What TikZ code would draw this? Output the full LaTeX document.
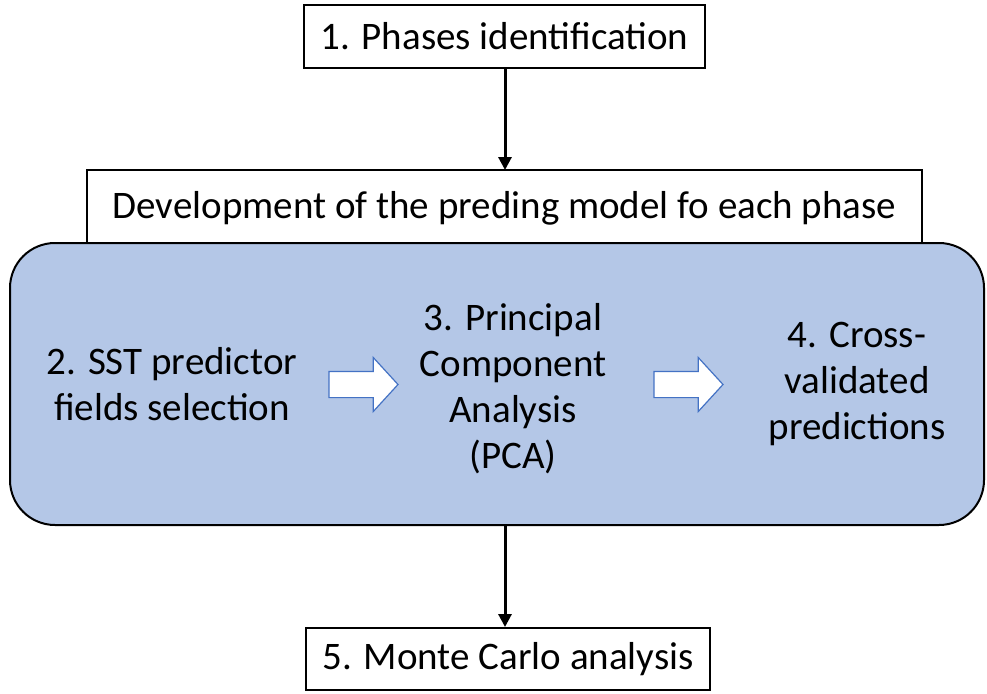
\documentclass[tikz,border=0pt]{standalone}
\usepackage{fontspec}
\setmainfont{Carlito}
\usetikzlibrary{arrows.meta,shapes.arrows}
\definecolor{panelblue}{HTML}{B4C7E7}
\definecolor{arrowblue}{HTML}{4472C4}
\tikzset{
  txt/.style={font=\fontsize{39}{46}\selectfont, align=center, text=black},
  plainbox/.style={draw=black, line width=2pt, fill=white, inner sep=0pt},
  flow/.style={line width=3pt, -{Triangle[width=13pt,length=13pt]}},
  hollow/.style={single arrow, draw=arrowblue, fill=white, line width=1.2pt,
    minimum height=69pt, minimum width=53pt, inner sep=12.5pt,
    single arrow head extend=14pt, single arrow tip angle=95}
}
\begin{document}
\begin{tikzpicture}[x=1pt,y=-1pt]
\useasboundingbox (0,0) rectangle (987,693);
% box 1
\node[plainbox, minimum width=401pt, minimum height=63pt] (b1) at (504.5,36.5) {};
\node[txt] (t1) at (b1.center) {1. Phases identification};
% box 2 (header)
\node[plainbox, minimum width=835pt, minimum height=80pt] (b2) at (504.5,210) {};
\node[txt] (t2) at (504.5,208) {Development of the preding model fo each phase};
% panel
\node[draw=black, line width=2pt, fill=panelblue, rounded corners=45pt,
      minimum width=974pt, minimum height=282pt, inner sep=0pt] (panel) at (497,384) {};
% texts in panel
\node[txt] (s2) at (172,384) {2. SST predictor\\fields selection};
\node[txt] (s3) at (513,389) {3. Principal\\Component\\Analysis\\(PCA)};
\node[txt] (s4) at (857,384) {4. Cross-\\validated\\predictions};
\node[hollow] (h1) at (357.5,384.5) {};
\node[hollow] (h2) at (682.5,384.5) {};
% box 5
\node[plainbox, minimum width=404pt, minimum height=62pt] (b5) at (508,659) {};
\node[txt] (t5) at (b5.center) {5. Monte Carlo analysis};
% connectors
\draw[flow] (b1.south -| 505,0) -- (505,170);
\draw[flow] (505,525) -- (b5.north -| 505,0);
\end{tikzpicture}
\end{document}
